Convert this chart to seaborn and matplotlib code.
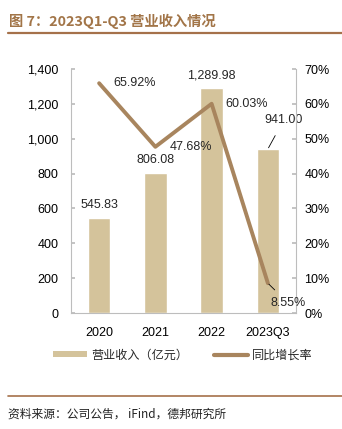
import numpy as np
import pandas as pd
import matplotlib
matplotlib.use("Agg")
import matplotlib.pyplot as plt
from matplotlib.patches import Patch
from matplotlib.lines import Line2D
import seaborn as sns

periods = ["2020", "2021", "2022", "2023Q3"]
revenue = [545.83, 806.08, 1289.98, 941.00]        # 营业收入（亿元）
yoy_growth = [65.92, 47.68, 60.03, 8.55]           # 同比增长率（%）
rev_ticks = [0, 200, 400, 600, 800, 1000, 1200, 1400]
pct_ticks = [0, 10, 20, 30, 40, 50, 60, 70]

BAR_C = "#d4c39b"
LINE_C = "#a8855e"
TITLE_C = "#a27548"
RULE_C = "#a5714a"
SPINE_C = "#bdbdbd"

sns.set_theme(style="white")
plt.rcParams["font.family"] = ["Liberation Sans", "Noto Sans CJK SC", "DejaVu Sans"]
CJK = ["Noto Sans CJK SC", "DejaVu Sans"]

fig = plt.figure(figsize=(3.42, 4.29), dpi=100)
ax = fig.add_axes([71 / 342, 1 - 313 / 429, 225 / 342, 244 / 429])

df = pd.DataFrame({"period": periods, "revenue": revenue, "growth": yoy_growth})
sns.barplot(data=df, x="period", y="revenue", color=BAR_C, width=0.4,
            saturation=1, ax=ax, zorder=2)
ax.set_xlim(-0.5, 3.5)
ax.set_ylim(0, 1400)
ax.set_yticks(rev_ticks)
ax.set_yticklabels([f"{v:,}" for v in rev_ticks], fontsize=9)
ax.set_xlabel("")
ax.set_ylabel("")
ax.tick_params(axis="x", length=0, labelsize=9, pad=10, colors="black")
ax.set_xticks(np.arange(len(periods)) + 0.5, minor=True)
ax.tick_params(axis="x", which="minor", length=3, direction="in", color=SPINE_C)
ax.tick_params(axis="y", direction="in", length=3, pad=9, colors="black")
ax.tick_params(axis="y", color=SPINE_C)

ax2 = ax.twinx()
sns.lineplot(x=np.arange(len(periods)), y=yoy_growth, color=LINE_C,
             linewidth=2.8, ax=ax2, zorder=3)
ax2.set_ylim(0, 70)
ax2.set_yticks(pct_ticks)
ax2.set_yticklabels([f"{v}%" for v in pct_ticks], fontsize=9)
ax2.tick_params(axis="y", direction="in", length=3, pad=6, colors="black")
ax2.tick_params(axis="y", color=SPINE_C)
ax2.set_ylabel("")

for a in (ax, ax2):
    a.spines["top"].set_visible(False)
    for s in ("left", "right", "bottom"):
        a.spines[s].set_color(SPINE_C)
        a.spines[s].set_linewidth(0.8)
ax.spines["right"].set_visible(False)
ax2.spines["left"].set_visible(False)
ax2.spines["bottom"].set_visible(False)

# revenue labels
for i, v in enumerate(revenue):
    if i == 3:
        ax.annotate(f"{v:,.2f}", xy=(i, v), xytext=(i + 0.28, v + 165),
                    ha="center", va="center", fontsize=9,
                    arrowprops=dict(arrowstyle="-", color="black", lw=0.6,
                                    shrinkA=5, shrinkB=1))
    else:
        ax.annotate(f"{v:,.2f}", xy=(i, v), xytext=(0, 9),
                    textcoords="offset points", ha="center", va="center",
                    fontsize=9)

# growth labels
for i, g in enumerate(yoy_growth):
    if i == 3:
        ax2.annotate(f"{g:.2f}%", xy=(i, g), xytext=(i + 0.36, g - 5.7),
                     ha="center", va="center", fontsize=9,
                     arrowprops=dict(arrowstyle="-", color="black", lw=0.6,
                                     shrinkA=4, shrinkB=1))
    else:
        ax2.annotate(f"{g:.2f}%", xy=(i, g), xytext=(10, 0),
                     textcoords="offset points", ha="left", va="center",
                     fontsize=9)

# header and footer
fig.text(9 / 342, 1 - 21 / 429, "图 7：2023Q1-Q3 营业收入情况", family=CJK,
         fontsize=10.3, fontweight="bold", color=TITLE_C, va="center", ha="left")
fig.add_artist(Line2D([8 / 342, 1.0], [1 - 33 / 429] * 2, color=RULE_C, lw=1.6))
fig.add_artist(Line2D([8 / 342, 1.0], [1 - 396 / 429] * 2, color=RULE_C, lw=1.2))
fig.text(8 / 342, 1 - 414 / 429, "资料来源：公司公告， iFind，德邦研究所",
         family=CJK, fontsize=8.5, color="#222222", va="center", ha="left")

handles = [Patch(facecolor=BAR_C, edgecolor="none"),
           Line2D([0], [0], color=LINE_C, lw=3)]
leg = fig.legend(handles, ["营业收入（亿元）", "同比增长率"], ncol=2,
                 loc="center", bbox_to_anchor=(183 / 342, 1 - 355 / 429),
                 frameon=False, prop={"family": CJK, "size": 8.7},
                 handlelength=2.8, handleheight=0.45, handletextpad=0.3,
                 columnspacing=2.2)

fig.savefig("out.png", dpi=100)
